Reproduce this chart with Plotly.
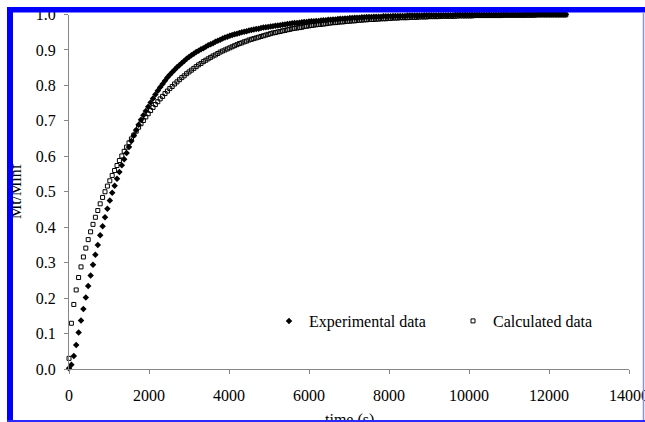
import plotly.graph_objects as go

# ---------------- data ----------------
time_s = [
    0, 60, 120, 180, 240, 300, 360, 420, 480, 540,
    600, 660, 720, 780, 840, 900, 960, 1020, 1080, 1140,
    1200, 1260, 1320, 1380, 1440, 1500, 1560, 1620, 1680, 1740,
    1800, 1860, 1920, 1980, 2040, 2100, 2160, 2220, 2280, 2340,
    2400, 2460, 2520, 2580, 2640, 2700, 2760, 2820, 2880, 2940,
    3000, 3060, 3120, 3180, 3240, 3300, 3360, 3420, 3480, 3540,
    3600, 3660, 3720, 3780, 3840, 3900, 3960, 4020, 4080, 4140,
    4200, 4260, 4320, 4380, 4440, 4500, 4560, 4620, 4680, 4740,
    4800, 4860, 4920, 4980, 5040, 5100, 5160, 5220, 5280, 5340,
    5400, 5460, 5520, 5580, 5640, 5700, 5760, 5820, 5880, 5940,
    6000, 6060, 6120, 6180, 6240, 6300, 6360, 6420, 6480, 6540,
    6600, 6660, 6720, 6780, 6840, 6900, 6960, 7020, 7080, 7140,
    7200, 7260, 7320, 7380, 7440, 7500, 7560, 7620, 7680, 7740,
    7800, 7860, 7920, 7980, 8040, 8100, 8160, 8220, 8280, 8340,
    8400, 8460, 8520, 8580, 8640, 8700, 8760, 8820, 8880, 8940,
    9000, 9060, 9120, 9180, 9240, 9300, 9360, 9420, 9480, 9540,
    9600, 9660, 9720, 9780, 9840, 9900, 9960, 10020, 10080, 10140,
    10200, 10260, 10320, 10380, 10440, 10500, 10560, 10620, 10680, 10740,
    10800, 10860, 10920, 10980, 11040, 11100, 11160, 11220, 11280, 11340,
    11400, 11460, 11520, 11580, 11640, 11700, 11760, 11820, 11880, 11940,
    12000, 12060, 12120, 12180, 12240, 12300, 12360, 12420,
]

experimental = [
    0.002, 0.012, 0.037, 0.068, 0.103, 0.137, 0.169, 0.202, 0.234, 0.264,
    0.294, 0.322, 0.350, 0.377, 0.403, 0.428, 0.452, 0.475, 0.497, 0.517,
    0.537, 0.556, 0.575, 0.592, 0.609, 0.626, 0.643, 0.659, 0.674, 0.689,
    0.703, 0.716, 0.728, 0.740, 0.752, 0.763, 0.774, 0.785, 0.795, 0.804,
    0.813, 0.822, 0.830, 0.837, 0.844, 0.851, 0.857, 0.863, 0.869, 0.875,
    0.880, 0.885, 0.889, 0.894, 0.898, 0.902, 0.905, 0.909, 0.913, 0.916,
    0.919, 0.923, 0.926, 0.929, 0.932, 0.935, 0.937, 0.940, 0.942, 0.944,
    0.946, 0.948, 0.950, 0.951, 0.953, 0.955, 0.956, 0.958, 0.959, 0.960,
    0.962, 0.963, 0.964, 0.965, 0.966, 0.967, 0.968, 0.969, 0.970, 0.971,
    0.972, 0.973, 0.974, 0.975, 0.976, 0.976, 0.977, 0.978, 0.979, 0.979,
    0.980, 0.981, 0.981, 0.982, 0.982, 0.983, 0.984, 0.984, 0.985, 0.985,
    0.986, 0.986, 0.987, 0.988, 0.988, 0.989, 0.989, 0.990, 0.990, 0.991,
    0.991, 0.991, 0.992, 0.992, 0.993, 0.993, 0.993, 0.994, 0.994, 0.994,
    0.994, 0.995, 0.995, 0.995, 0.995, 0.996, 0.996, 0.996, 0.996, 0.996,
    0.996, 0.997, 0.997, 0.997, 0.997, 0.997, 0.997, 0.997, 0.998, 0.998,
    0.998, 0.998, 0.998, 0.998, 0.998, 0.998, 0.998, 0.998, 0.998, 0.998,
    0.998, 0.999, 0.999, 0.999, 0.999, 0.999, 0.999, 0.999, 0.999, 0.999,
    0.999, 0.999, 0.999, 0.999, 0.999, 0.999, 0.999, 0.999, 0.999, 0.999,
    0.999, 0.999, 0.999, 0.999, 0.999, 0.999, 0.999, 0.999, 0.999, 0.999,
    0.999, 1.000, 1.000, 1.000, 1.000, 1.000, 1.000, 1.000, 1.000, 1.000,
    1.000, 1.000, 1.000, 1.000, 1.000, 1.000, 1.000, 1.000,
]

calculated = [
    0.030, 0.129, 0.182, 0.223, 0.258, 0.288, 0.316, 0.341, 0.365, 0.387,
    0.408, 0.428, 0.447, 0.466, 0.484, 0.500, 0.516, 0.531, 0.546, 0.560,
    0.574, 0.588, 0.601, 0.614, 0.626, 0.638, 0.649, 0.660, 0.671, 0.682,
    0.692, 0.701, 0.711, 0.720, 0.729, 0.738, 0.746, 0.754, 0.762, 0.769,
    0.777, 0.784, 0.791, 0.797, 0.804, 0.810, 0.816, 0.822, 0.827, 0.833,
    0.838, 0.843, 0.848, 0.853, 0.858, 0.862, 0.867, 0.871, 0.875, 0.879,
    0.883, 0.886, 0.890, 0.894, 0.897, 0.900, 0.903, 0.906, 0.909, 0.912,
    0.915, 0.918, 0.920, 0.923, 0.925, 0.928, 0.930, 0.932, 0.934, 0.936,
    0.938, 0.940, 0.942, 0.944, 0.946, 0.948, 0.949, 0.951, 0.952, 0.954,
    0.955, 0.957, 0.958, 0.960, 0.961, 0.962, 0.963, 0.964, 0.966, 0.967,
    0.968, 0.969, 0.970, 0.971, 0.972, 0.972, 0.973, 0.974, 0.975, 0.976,
    0.977, 0.977, 0.978, 0.979, 0.979, 0.980, 0.981, 0.981, 0.982, 0.982,
    0.983, 0.984, 0.984, 0.985, 0.985, 0.986, 0.986, 0.986, 0.987, 0.987,
    0.988, 0.988, 0.988, 0.989, 0.989, 0.990, 0.990, 0.990, 0.991, 0.991,
    0.991, 0.991, 0.992, 0.992, 0.992, 0.992, 0.993, 0.993, 0.993, 0.993,
    0.994, 0.994, 0.994, 0.994, 0.994, 0.995, 0.995, 0.995, 0.995, 0.995,
    0.995, 0.995, 0.996, 0.996, 0.996, 0.996, 0.996, 0.996, 0.996, 0.997,
    0.997, 0.997, 0.997, 0.997, 0.997, 0.997, 0.997, 0.997, 0.997, 0.997,
    0.997, 0.998, 0.998, 0.998, 0.998, 0.998, 0.998, 0.998, 0.998, 0.998,
    0.998, 0.998, 0.998, 0.998, 0.998, 0.999, 0.999, 0.999, 0.999, 0.999,
    0.999, 0.999, 0.999, 0.999, 0.999, 0.999, 0.999, 0.999,
]

series_names = ["Experimental data", "Calculated data"]
x_ticks = [0, 2000, 4000, 6000, 8000, 10000, 12000, 14000]
x_tick_text = ["0", "2000", "4000", "6000", "8000", "10000", "12000", "14000"]
y_ticks = [0.0, 0.1, 0.2, 0.3, 0.4, 0.5, 0.6, 0.7, 0.8, 0.9, 1.0]
x_title = "time (s)"
y_title = "Mt/Minf"

# ---------------- figure ----------------
W, H = 645, 422
FONT = "Liberation Serif"
AXIS_GREY = "#868686"
BLUE = "#0000ff"

def px_x(p):
    return p / W

def px_y(p):
    return 1 - p / H

fig = go.Figure()
fig.add_trace(go.Scatter(
    x=time_s, y=experimental, name=series_names[0], mode="markers",
    marker=dict(symbol="diamond", size=5, color="black", line=dict(width=0)),
    cliponaxis=False,
))
fig.add_trace(go.Scatter(
    x=time_s, y=calculated, name=series_names[1], mode="markers",
    marker=dict(symbol="square-open", size=4, color="black", line=dict(width=1)),
    cliponaxis=False,
))

axis_common = dict(
    showline=True, linecolor=AXIS_GREY, linewidth=1,
    ticks="outside", ticklen=4, tickcolor=AXIS_GREY, tickwidth=1,
    showgrid=False, zeroline=False, automargin=False,
    ticklabeloverflow="allow",
    tickfont=dict(family=FONT, size=16, color="black"),
)

fig.update_layout(
    width=W, height=H,
    margin=dict(l=0, r=0, t=0, b=0, pad=0, autoexpand=False),
    paper_bgcolor="white", plot_bgcolor="white",
    font=dict(family=FONT, size=16, color="black"),
    xaxis=dict(domain=[px_x(69), px_x(629)], range=[0, 14000],
               tickvals=x_ticks, ticktext=x_tick_text, ticklabelstandoff=8,
               **axis_common),
    yaxis=dict(domain=[px_y(369), px_y(14.5)], range=[0, 1.0],
               tickvals=y_ticks, tickformat=".1f", ticklabelstandoff=5,
               **axis_common),
    showlegend=True,
    legend=dict(orientation="h", x=px_x(269), y=px_y(321),
                xanchor="left", yanchor="middle",
                bgcolor="rgba(0,0,0,0)", borderwidth=0,
                font=dict(family=FONT, size=16, color="black"),
                entrywidth=139, entrywidthmode="pixels"),
)

# axis titles (as annotations so the frame can overlap them, as in the original)
fig.add_annotation(text=x_title, xref="paper", yref="paper",
                   x=px_x(349), y=px_y(409), xanchor="center", yanchor="top",
                   showarrow=False, font=dict(family=FONT, size=16, color="black"))
fig.add_annotation(text=y_title, xref="paper", yref="paper", textangle=-90,
                   x=px_x(16), y=px_y(191), xanchor="center", yanchor="middle",
                   showarrow=False, font=dict(family=FONT, size=16, color="black"))

# blue frame of the original picture
fig.add_shape(type="rect", xref="paper", yref="paper", layer="above",
              x0=px_x(7), x1=px_x(646), y0=px_y(12.5), y1=px_y(7),
              fillcolor=BLUE, line=dict(width=0))
fig.add_shape(type="line", xref="paper", yref="paper", layer="above",
              x0=px_x(643.5), x1=px_x(643.5), y0=px_y(423), y1=px_y(12),
              line=dict(color="#8c8cff", width=1.5))
# left band and bottom line drawn as boxes above the titles
fig.add_annotation(text=" ", xref="paper", yref="paper", x=px_x(7), y=px_y(7),
                   xanchor="left", yanchor="top", width=5.5, height=416,
                   bgcolor=BLUE, borderpad=0, borderwidth=0, showarrow=False,
                   font=dict(size=1))
fig.add_annotation(text=" ", xref="paper", yref="paper", x=px_x(7), y=px_y(420),
                   xanchor="left", yanchor="top", width=640, height=2,
                   bgcolor="#2a2aff", borderpad=0, borderwidth=0, showarrow=False,
                   font=dict(size=1))

fig.write_html("out.html")
